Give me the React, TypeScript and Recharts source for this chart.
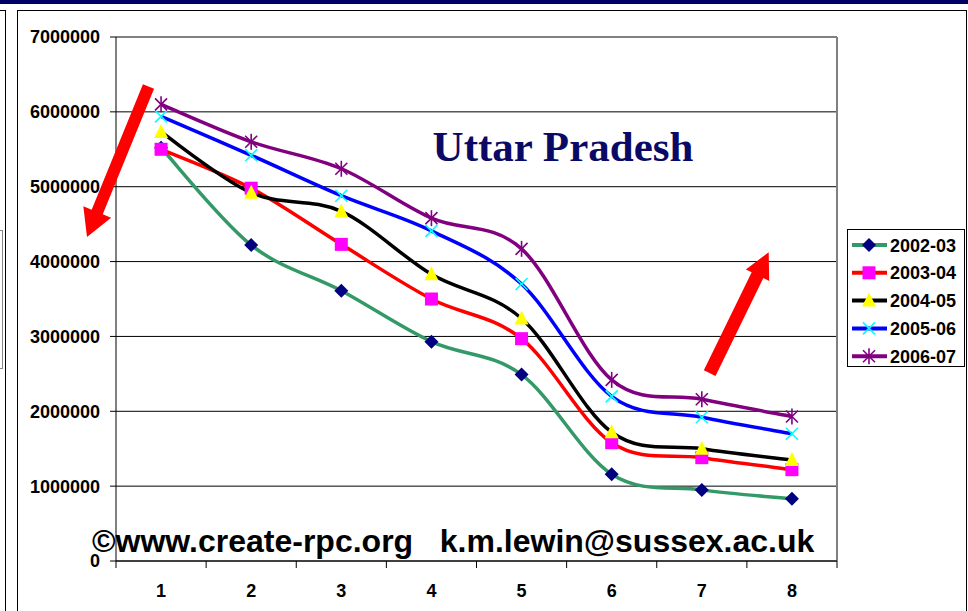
import { LineChart, Line, XAxis, YAxis, CartesianGrid, ReferenceLine, Legend } from "recharts";

// categories on the x axis
const categories = [1, 2, 3, 4, 5, 6, 7, 8];

// enrolment per year series
const y200203 = [5520000, 4220000, 3610000, 2930000, 2490000, 1160000, 950000, 830000];
const y200304 = [5500000, 4980000, 4230000, 3500000, 2970000, 1580000, 1380000, 1220000];
const y200405 = [5730000, 4920000, 4670000, 3830000, 3240000, 1720000, 1500000, 1350000];
const y200506 = [5940000, 5420000, 4880000, 4410000, 3700000, 2200000, 1920000, 1700000];
const y200607 = [6100000, 5600000, 5240000, 4580000, 4170000, 2420000, 2160000, 1930000];

const yTicks = [0, 1000000, 2000000, 3000000, 4000000, 5000000, 6000000, 7000000];
const seriesNames = ["2002-03", "2003-04", "2004-05", "2005-06", "2006-07"];

const FONT = "'Liberation Sans', Arial, sans-serif";

const data = categories.map((c, i) => ({
    x: c,
    s0: y200203[i],
    s1: y200304[i],
    s2: y200405[i],
    s3: y200506[i],
    s4: y200607[i],
}));

// tick lines at the band edges, labels at the centres
const xTicks = categories.flatMap((c) => [c - 0.5, c]).concat(categories[categories.length - 1] + 0.5);

type Shape = "diamond" | "square" | "triangle" | "cross" | "star";

const SERIES: { key: string; name: string; line: string; marker: string; shape: Shape }[] = [
    { key: "s0", name: seriesNames[0], line: "#339966", marker: "#000080", shape: "diamond" },
    { key: "s1", name: seriesNames[1], line: "#ff0000", marker: "#ff00ff", shape: "square" },
    { key: "s2", name: seriesNames[2], line: "#000000", marker: "#ffff00", shape: "triangle" },
    { key: "s3", name: seriesNames[3], line: "#0000ff", marker: "#00ffff", shape: "cross" },
    { key: "s4", name: seriesNames[4], line: "#800080", marker: "#800080", shape: "star" },
];

// Excel style smoothed line (cubic bezier, 1/6 tangents)
const excelSmooth = (context: any) => {
    let pts: [number, number][] = [];
    return {
        areaStart() {},
        areaEnd() {},
        lineStart() {
            pts = [];
        },
        point(x: number, y: number) {
            pts.push([+x, +y]);
        },
        lineEnd() {
            if (!pts.length) return;
            context.moveTo(pts[0][0], pts[0][1]);
            for (let i = 0; i < pts.length - 1; i++) {
                const p0 = pts[i - 1] || pts[i];
                const p1 = pts[i];
                const p2 = pts[i + 1];
                const p3 = pts[i + 2] || pts[i + 1];
                context.bezierCurveTo(
                    p1[0] + (p2[0] - p0[0]) / 6,
                    p1[1] + (p2[1] - p0[1]) / 6,
                    p2[0] - (p3[0] - p1[0]) / 6,
                    p2[1] - (p3[1] - p1[1]) / 6,
                    p2[0],
                    p2[1]
                );
            }
        },
    };
};

const Marker = ({ cx, cy, shape, color }: { cx: number; cy: number; shape: Shape; color: string }) => {
    if (cx == null || cy == null) return null;
    switch (shape) {
        case "diamond":
            return <polygon points={`${cx},${cy - 7} ${cx + 7},${cy} ${cx},${cy + 7} ${cx - 7},${cy}`} fill={color} />;
        case "square":
            return <rect x={cx - 6.5} y={cy - 6.5} width={13} height={13} fill={color} />;
        case "triangle":
            return <polygon points={`${cx},${cy - 8} ${cx + 7},${cy + 6} ${cx - 7},${cy + 6}`} fill={color} />;
        case "cross":
            return (
                <g stroke={color} strokeWidth={1.6}>
                    <line x1={cx - 6} y1={cy - 6} x2={cx + 6} y2={cy + 6} />
                    <line x1={cx - 6} y1={cy + 6} x2={cx + 6} y2={cy - 6} />
                </g>
            );
        default:
            return (
                <g stroke={color} strokeWidth={1.6}>
                    <line x1={cx - 6} y1={cy - 6} x2={cx + 6} y2={cy + 6} />
                    <line x1={cx - 6} y1={cy + 6} x2={cx + 6} y2={cy - 6} />
                    <line x1={cx} y1={cy - 8} x2={cx} y2={cy + 8} />
                </g>
            );
    }
};

const XTick = (props: any) => {
    const { x, y, payload } = props;
    if (Number.isInteger(payload.value)) {
        return (
            <text x={x} y={y + 36} textAnchor="middle" fontSize={18} fontWeight="bold" fontFamily={FONT} fill="#000">
                {payload.value}
            </text>
        );
    }
    return <line x1={x} y1={y} x2={x} y2={y + 7} stroke="#000" strokeWidth={1} />;
};

const LegendBox = () => (
    <svg width={118} height={138} style={{ display: "block" }}>
        <rect x={0.5} y={0.5} width={117} height={137} fill="#fff" stroke="#000" strokeWidth={1} />
        {SERIES.map((s, i) => {
            const cy = 16 + i * 27.8;
            return (
                <g key={s.key}>
                    <line x1={5} y1={cy} x2={40} y2={cy} stroke={s.line} strokeWidth={4} />
                    <Marker cx={22} cy={cy} shape={s.shape} color={s.marker} />
                    <text x={43} y={cy + 6.5} fontSize={18} fontWeight="bold" fontFamily={FONT} fill="#000">
                        {s.name}
                    </text>
                </g>
            );
        })}
    </svg>
);

const arrowPoints = (tail: number[], tip: number[], w: number, hl: number, hw: number) => {
    const dx = tip[0] - tail[0];
    const dy = tip[1] - tail[1];
    const len = Math.hypot(dx, dy);
    const ux = dx / len;
    const uy = dy / len;
    const nx = -uy;
    const ny = ux;
    const bx = tip[0] - ux * hl;
    const by = tip[1] - uy * hl;
    const pts = [
        [tail[0] + (nx * w) / 2, tail[1] + (ny * w) / 2],
        [bx + (nx * w) / 2, by + (ny * w) / 2],
        [bx + (nx * hw) / 2, by + (ny * hw) / 2],
        [tip[0], tip[1]],
        [bx - (nx * hw) / 2, by - (ny * hw) / 2],
        [bx - (nx * w) / 2, by - (ny * w) / 2],
        [tail[0] - (nx * w) / 2, tail[1] - (ny * w) / 2],
    ];
    return pts.map((p) => p.join(",")).join(" ");
};

export default function App() {
    return (
        <div style={{ position: "absolute", left: 0, top: 0, width: 968, height: 611, background: "#fff", overflow: "hidden" }}>
            {/* slide decorations */}
            <div style={{ position: "absolute", left: 0, top: 0, width: 968, height: 4, background: "#000066" }} />
            <div style={{ position: "absolute", left: 0, top: 10, width: 5, height: 640, borderTop: "1px solid #000", borderRight: "1px solid #000" }} />
            <div style={{ position: "absolute", left: -2, top: 230, width: 3, height: 137, border: "1px solid #888" }} />
            <div style={{ position: "absolute", left: 17, top: 10, width: 948, height: 640, border: "1px solid #000" }} />

            <div style={{ position: "absolute", left: 0, top: 0 }}>
                <LineChart width={968} height={611} data={data} margin={{ top: 37, right: 131, bottom: 0, left: 0 }}>
                    <CartesianGrid vertical={false} stroke="#000" strokeWidth={1} />
                    <ReferenceLine y={7000000} stroke="#808080" strokeWidth={2} />
                    <ReferenceLine x={8.5} stroke="#808080" strokeWidth={2} />
                    <XAxis
                        dataKey="x"
                        type="number"
                        domain={[0.5, 8.5]}
                        ticks={xTicks}
                        interval={0}
                        height={50}
                        tickSize={0}
                        tickMargin={0}
                        tickLine={false}
                        axisLine={{ stroke: "#000", strokeWidth: 1 }}
                        tick={<XTick />}
                    />
                    <YAxis
                        domain={[0, 7000000]}
                        ticks={yTicks}
                        width={116}
                        tickSize={6}
                        tickMargin={10}
                        axisLine={{ stroke: "#000", strokeWidth: 1 }}
                        tickLine={{ stroke: "#000" }}
                        tick={{ fontSize: 18, fontWeight: "bold", fill: "#000", fontFamily: FONT }}
                    />
                    <Legend
                        layout="vertical"
                        align="center"
                        verticalAlign="middle"
                        content={() => <LegendBox />}
                        wrapperStyle={{ left: 847, top: 229, width: 118, height: 138 }}
                    />
                    {SERIES.map((s) => (
                        <Line
                            key={s.key}
                            dataKey={s.key}
                            name={s.name}
                            type={excelSmooth as any}
                            stroke={s.line}
                            strokeWidth={3.5}
                            isAnimationActive={false}
                            dot={(p: any) => <Marker key={`${s.key}-${p.index}`} cx={p.cx} cy={p.cy} shape={s.shape} color={s.marker} />}
                            activeDot={false}
                        />
                    ))}
                </LineChart>
            </div>

            {/* annotations */}
            <svg width={968} height={611} style={{ position: "absolute", left: 0, top: 0, pointerEvents: "none" }}>
                <polygon points={arrowPoints([148.5, 86.5], [87, 237], 12, 27, 30)} fill="#ff0000" />
                <polygon points={arrowPoints([709.7, 373.2], [768.7, 252.3], 13, 25.5, 26)} fill="#ff0000" />
                <text x={563} y={161} textAnchor="middle" fontSize={43} fontWeight="bold" fontFamily="'Liberation Serif', 'Times New Roman', serif" fill="#0a0a66">
                    Uttar Pradesh
                </text>
                <text x={92} y={552} fontSize={32} fontWeight="bold" fontFamily={FONT} fill="#000">
                    {"©www.create-rpc.org\u00a0\u00a0\u00a0k.m.lewin@sussex.ac.uk"}
                </text>
            </svg>
        </div>
    );
}
